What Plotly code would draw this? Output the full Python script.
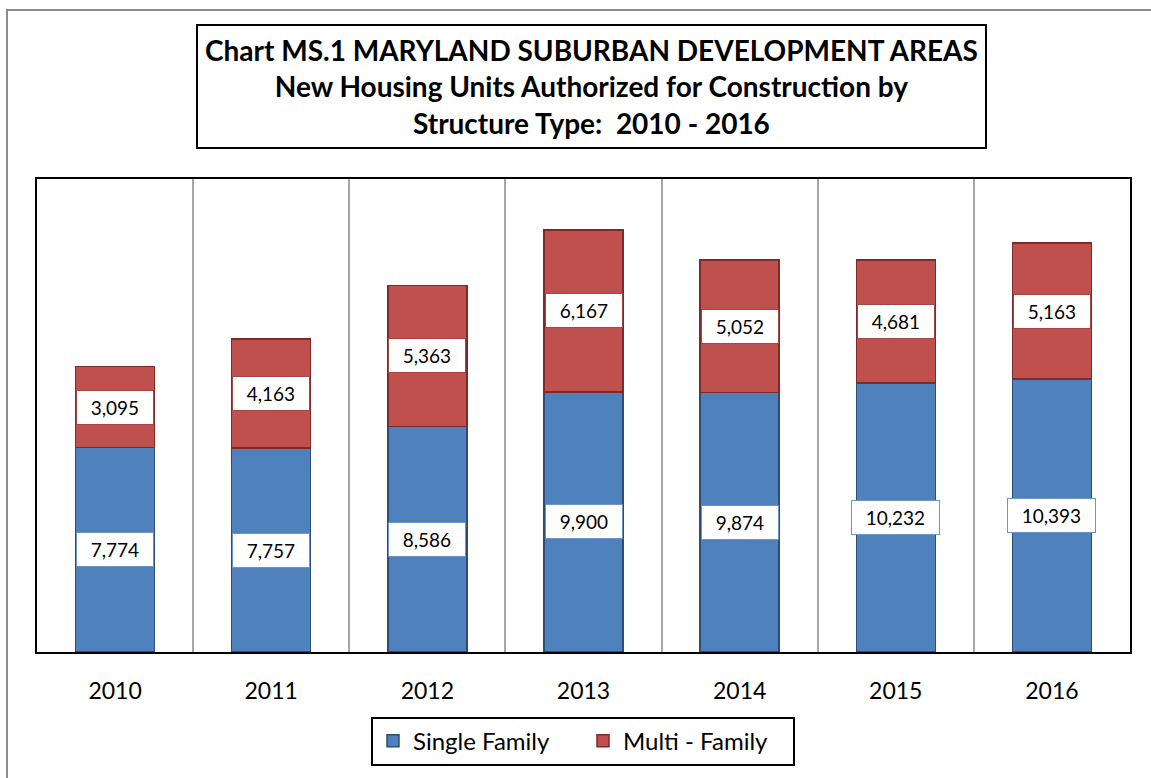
import plotly.graph_objects as go

years = ["2010", "2011", "2012", "2013", "2014", "2015", "2016"]
single_family = [7774, 7757, 8586, 9900, 9874, 10232, 10393]
multi_family = [3095, 4163, 5363, 6167, 5052, 4681, 5163]

W, H = 1151, 778
ML, MR, MT, MB = 37, 21, 179, 123
PW = W - ML - MR
PH = H - MT - MB

def px_x(px):
    return (px - ML) / PW

def px_y(py):
    return (H - MB - py) / PH

xpos = list(range(len(years)))
FONT = "Lato, Calibri, Open Sans, sans-serif"
PAD = "&nbsp;&nbsp;"

fig = go.Figure()
fig.add_trace(go.Bar(
    x=xpos, y=single_family, name="Single Family",
    marker=dict(color="#4F81BD", line=dict(color="#2C4D75", width=1.5)),
    width=0.506,
))
fig.add_trace(go.Bar(
    x=xpos, y=multi_family, name="Multi - Family",
    marker=dict(color="#C0504D", line=dict(color="#7F2A28", width=1.5)),
    width=0.506,
))

annotations = []
for i, (s, m) in enumerate(zip(single_family, multi_family)):
    annotations.append(dict(
        x=i, y=s / 2, xref="x", yref="y", text=f"{PAD}{s:,}{PAD}", showarrow=False,
        font=dict(family=FONT, size=19, color="black"), height=25,
        bgcolor="white", bordercolor="#6C93C8", borderwidth=1, borderpad=4,
    ))
    annotations.append(dict(
        x=i, y=s + m / 2, xref="x", yref="y", text=f"{PAD}{m:,}{PAD}", showarrow=False,
        font=dict(family=FONT, size=19, color="black"), height=25,
        bgcolor="white", bordercolor="#A84542", borderwidth=1, borderpad=4,
    ))

annotations.append(dict(
    x=px_x(591.5), y=px_y(85.5), xref="paper", yref="paper",
    text="Chart MS.1 MARYLAND SUBURBAN DEVELOPMENT AREAS<br>New Housing Units Authorized for Construction by<br>Structure Type:  2010 - 2016",
    showarrow=False, align="center",
    font=dict(family=FONT, size=28, color="black", weight="bold"),
    bgcolor="white", bordercolor="black", borderwidth=2, borderpad=7,
    xanchor="center", yanchor="middle",
))

shapes = [dict(
    type="rect", xref="paper", yref="paper",
    x0=px_x(7), x1=px_x(1170), y0=px_y(9), y1=px_y(800),
    line=dict(color="#8C8C8C", width=2), fillcolor="rgba(0,0,0,0)", layer="below",
)]

fig.update_layout(
    width=W, height=H,
    margin=dict(l=ML, r=MR, t=MT, b=MB),
    barmode="stack",
    paper_bgcolor="white", plot_bgcolor="white",
    font=dict(family=FONT, color="black"),
    showlegend=True,
    legend=dict(
        orientation="h", x=px_x(583), y=px_y(720), xanchor="center", yanchor="top",
        bordercolor="black", borderwidth=2, bgcolor="white",
        font=dict(family=FONT, size=24, color="black"),
        itemwidth=30, traceorder="normal",
        entrywidth=165, entrywidthmode="pixels",
    ),
    annotations=annotations,
    shapes=shapes,
    xaxis=dict(
        range=[-0.5, len(years) - 0.5],
        tickmode="array", tickvals=xpos, ticktext=years,
        tickfont=dict(family=FONT, size=23, color="black"),
        showgrid=False, showline=True, linecolor="black", linewidth=2, mirror=True,
        ticks="", ticklabelstandoff=17,
        minor=dict(tick0=0.5, dtick=1, showgrid=True, gridcolor="#A6A6A6", gridwidth=1.5),
        zeroline=False,
    ),
    yaxis=dict(
        range=[0, 18000], showticklabels=False, showgrid=False, ticks="",
        showline=True, linecolor="black", linewidth=2, mirror=True, zeroline=False,
    ),
)

fig.write_html("out.html", config={"displayModeBar": False},
               post_script="document.body.style.margin='0px';")
